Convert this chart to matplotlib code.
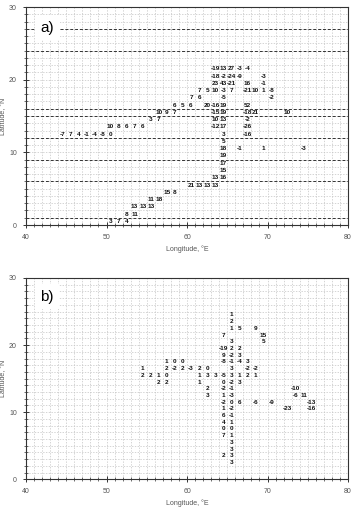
import matplotlib
matplotlib.use("Agg")
import matplotlib.pyplot as plt
from matplotlib.ticker import MultipleLocator

plt.rcParams['font.family'] = ['Liberation Sans', 'DejaVu Sans']

# ---------------- Panel a data (cell centres: lon, lat, value) ----------------
a_lon = [63.5, 64.5, 65.5, 66.5, 67.5,
         63.5, 64.5, 65.5, 66.5, 69.5,
         63.5, 64.5, 65.5, 67.5, 69.5,
         61.5, 62.5, 63.5, 64.5, 65.5, 67.5, 68.5, 69.5, 70.5,
         60.5, 61.5, 64.5, 70.5,
         58.5, 59.5, 60.5, 62.5, 63.5, 64.5, 67.5,
         56.5, 57.5, 58.5, 63.5, 64.5, 67.5, 68.5, 72.5,
         55.5, 56.5, 63.5, 64.5, 67.5,
         50.5, 51.5, 52.5, 53.5, 54.5, 63.5, 64.5, 67.5,
         44.5, 45.5, 46.5, 47.5, 48.5, 49.5, 50.5, 64.5, 67.5,
         64.5,
         64.5, 66.5, 69.5, 74.5,
         64.5,
         64.5,
         64.5,
         63.5, 64.5,
         60.5, 61.5, 62.5, 63.5,
         57.5, 58.5,
         55.5, 56.5,
         53.5, 54.5, 55.5,
         52.5, 53.5,
         50.5, 51.5, 52.5]
a_lat = [21.5] * 5 + [20.5] * 5 + [19.5] * 5 + [18.5] * 9 + [17.5] * 4 + \
        [16.5] * 7 + [15.5] * 8 + [14.5] * 5 + [13.5] * 8 + [12.5] * 9 + \
        [11.5] * 1 + [10.5] * 4 + [9.5] + [8.5] + [7.5] + [6.5] * 2 + \
        [5.5] * 4 + [4.5] * 2 + [3.5] * 2 + [2.5] * 3 + [1.5] * 2 + [0.5] * 3
a_val = [-19, 13, 27, -3, -4,
         -18, -2, -24, -9, -3,
         23, 43, -21, 16, -1,
         7, 5, 10, -3, 7, -21, 10, 1, -8,
         7, 6, -5, -2,
         6, 5, 6, 20, -16, 19, 52,
         10, 9, 7, -15, 19, -18, 21, 10,
         3, 7, 10, 13, -2,
         10, 8, 6, 7, 6, -12, 17, -26,
         -7, 7, 4, -1, -4, -8, 0, 3, -16,
         5,
         18, -1, 1, -3,
         19,
         17,
         15,
         13, 16,
         21, 13, 13, 13,
         15, 8,
         11, 18,
         13, 13, 13,
         8, 11,
         3, 7, 4]
a_lines = [1, 6, 9, 12, 15, 16, 24, 27]

# ---------------- Panel b data ----------------
b_lon = [65.5,
         65.5,
         65.5, 66.5, 68.5,
         64.5, 69.5,
         65.5, 69.5,
         64.5, 65.5, 66.5,
         64.5, 65.5, 66.5,
         57.5, 58.5, 59.5, 64.5, 65.5, 66.5, 67.5,
         54.5, 57.5, 58.5, 59.5, 60.5, 61.5, 62.5, 65.5, 67.5, 68.5,
         54.5, 55.5, 56.5, 57.5, 61.5, 62.5, 63.5, 64.5, 65.5, 66.5, 67.5, 68.5,
         56.5, 57.5, 61.5, 64.5, 65.5, 66.5,
         62.5, 64.5, 65.5, 73.5,
         62.5, 64.5, 65.5, 73.5, 74.5,
         64.5, 65.5, 66.5, 68.5, 70.5, 75.5,
         64.5, 65.5, 72.5, 75.5,
         64.5, 65.5,
         64.5, 65.5,
         64.5, 65.5,
         64.5, 65.5,
         65.5,
         65.5,
         64.5, 65.5,
         65.5]
b_lat = [24.5] + [23.5] + [22.5] * 3 + [21.5] * 2 + [20.5] * 2 + [19.5] * 3 + \
        [18.5] * 3 + [17.5] * 7 + [16.5] * 10 + [15.5] * 12 + [14.5] * 6 + \
        [13.5] * 4 + [12.5] * 5 + [11.5] * 6 + [10.5] * 4 + [9.5] * 2 + \
        [8.5] * 2 + [7.5] * 2 + [6.5] * 2 + [5.5] + [4.5] + [3.5] * 2 + [2.5]
b_val = [1,
         2,
         1, 5, 9,
         7, 15,
         3, 5,
         -19, 2, 2,
         9, -2, 3,
         1, 0, 0, -8, -1, -4, 3,
         1, 2, -2, 2, -3, 2, 0, 3, -2, -2,
         2, 2, 1, 0, 1, 3, 3, -5, 3, 1, 2, 1,
         2, 2, 1, 0, -2, 3,
         2, -2, -1, -10,
         3, 1, -3, -6, 11,
         -2, 0, 6, -6, -9, -13,
         1, -2, -23, -16,
         6, -1,
         4, 1,
         0, 0,
         7, 1,
         3,
         3,
         2, 3,
         3]

x_ticks = [40, 50, 60, 70, 80]
y_ticks = [0, 10, 20, 30]

W, H = 364, 507
fig = plt.figure(figsize=(W / 100, H / 100), dpi=100)
ax_a = fig.add_axes([26 / W, 1 - 225 / H, 322 / W, 218 / H])
ax_b = fig.add_axes([26 / W, 1 - 479.3 / H, 322 / W, 201.3 / H])

tick_col = '#555555'


def setup(ax, label, ly, xly):
    ax.set_xlim(40, 80)
    ax.set_ylim(0, 30)
    ax.set_xticks(x_ticks)
    ax.set_yticks(y_ticks)
    ax.xaxis.set_minor_locator(MultipleLocator(1))
    ax.yaxis.set_minor_locator(MultipleLocator(1))
    ax.grid(which='both', color='#c4c4c4', linestyle=(0, (2, 2)), linewidth=0.5)
    ax.set_axisbelow(True)
    ax.tick_params(which='major', direction='inout', length=5, width=0.7,
                   labelsize=5, labelcolor=tick_col, color='#333333', pad=4)
    ax.tick_params(which='minor', direction='inout', length=3, width=0.5,
                   color='#333333')
    for s in ax.spines.values():
        s.set_color('#333333')
        s.set_linewidth(0.8)
    ax.set_xlabel('Longitude, °E', fontsize=5, color=tick_col)
    ax.set_ylabel('Latitude, °N', fontsize=5, color=tick_col)
    ax.xaxis.set_label_coords(0.5, xly)
    ax.yaxis.set_label_coords(-0.058, 0.5)
    ax.text(0.045, ly, label, transform=ax.transAxes, fontsize=11,
            ha='left', va='center', zorder=5,
            bbox=dict(facecolor='white', edgecolor='none', pad=4))


setup(ax_a, 'a)', 0.905, -0.095)
setup(ax_b, 'b)', 0.908, -0.098)

for y in a_lines:
    ax_a.axhline(y, color='#333333', linestyle=(0, (3, 2)), linewidth=0.7, zorder=2)

for ax, lons, lats, vals in ((ax_a, a_lon, a_lat, a_val), (ax_b, b_lon, b_lat, b_val)):
    for x, y, v in zip(lons, lats, vals):
        ax.text(x, y, str(v), ha='center', va='center', fontsize=4.6,
                fontweight='bold', color='#111111', zorder=4)

fig.savefig('out.png', dpi=100)
